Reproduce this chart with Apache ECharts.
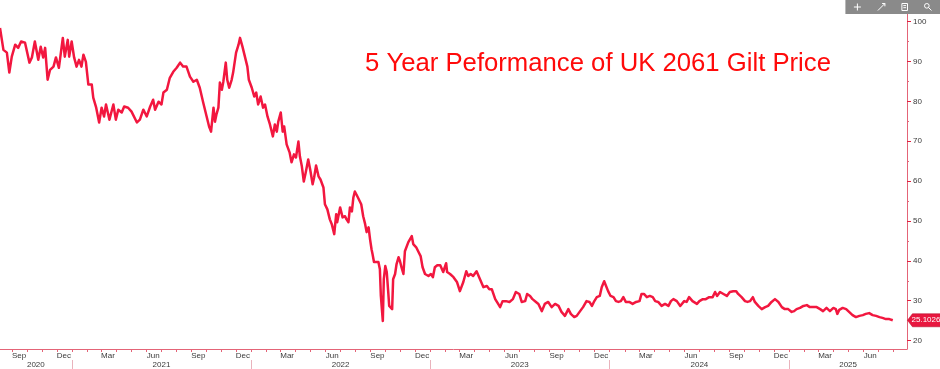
<!DOCTYPE html>
<html>
<head>
<meta charset="utf-8">
<script src="https://cdn.jsdelivr.net/npm/echarts@6/dist/echarts.min.js"></script>
<style>
  html, body { margin: 0; padding: 0; background: #ffffff; }
  #chart { width: 940px; height: 369px; }
</style>
</head>
<body>
<div id="chart"></div>
<script>
// ---- Data ----
const titleText = '5 Year Peformance of UK 2061 Gilt Price';
const lastLabel = '25.1026';

const dates = [
'2020-08-07','2020-08-14','2020-08-21','2020-08-26','2020-08-31','2020-09-07','2020-09-13','2020-09-19','2020-09-27','2020-10-06',
'2020-10-11','2020-10-17','2020-10-24','2020-10-29','2020-11-03','2020-11-07','2020-11-12','2020-11-17','2020-11-24','2020-11-29',
'2020-12-05','2020-12-13','2020-12-17','2020-12-23','2020-12-26','2020-12-31','2021-01-05','2021-01-10','2021-01-15','2021-01-20',
'2021-01-24','2021-01-29','2021-02-03','2021-02-10','2021-02-13','2021-02-19','2021-02-25','2021-03-02','2021-03-07','2021-03-11',
'2021-03-18','2021-03-26','2021-03-31','2021-04-05','2021-04-12','2021-04-17','2021-04-25','2021-05-02','2021-05-06','2021-05-13',
'2021-05-19','2021-05-26','2021-06-02','2021-06-09','2021-06-15','2021-06-19','2021-06-26','2021-07-02','2021-07-06','2021-07-13',
'2021-07-19','2021-07-26','2021-08-02','2021-08-09','2021-08-15','2021-08-22','2021-08-29','2021-09-05','2021-09-12','2021-09-18',
'2021-09-25','2021-10-02','2021-10-07','2021-10-11','2021-10-16','2021-10-19','2021-10-22','2021-10-26','2021-10-29','2021-11-02',
'2021-11-05','2021-11-10','2021-11-13','2021-11-17','2021-11-22','2021-11-25','2021-12-01','2021-12-06','2021-12-09','2021-12-14',
'2021-12-19','2021-12-24','2021-12-27','2022-01-02','2022-01-07','2022-01-11','2022-01-15','2022-01-20','2022-01-25','2022-01-29',
'2022-02-03','2022-02-08','2022-02-14','2022-02-18','2022-02-22','2022-02-25','2022-03-02','2022-03-06','2022-03-09','2022-03-14',
'2022-03-20','2022-03-24','2022-03-29','2022-04-02','2022-04-07','2022-04-10','2022-04-14','2022-04-18','2022-04-22','2022-04-27',
'2022-05-01','2022-05-06','2022-05-09','2022-05-13','2022-05-18','2022-05-22','2022-05-28','2022-05-31','2022-06-05','2022-06-10',
'2022-06-14','2022-06-19','2022-06-23','2022-06-25','2022-07-01','2022-07-06','2022-07-11','2022-07-14','2022-07-18','2022-07-21',
'2022-07-25','2022-07-28','2022-07-31','2022-08-05','2022-08-09','2022-08-13','2022-08-17','2022-08-21','2022-08-24','2022-08-28',
'2022-08-31','2022-09-03','2022-09-05','2022-09-08','2022-09-12','2022-09-17','2022-09-20','2022-09-22','2022-09-26','2022-09-28',
'2022-10-01','2022-10-04','2022-10-07','2022-10-09','2022-10-12','2022-10-15','2022-10-17','2022-10-21','2022-10-24','2022-10-28',
'2022-10-31','2022-11-03','2022-11-07','2022-11-10','2022-11-14','2022-11-17','2022-11-20','2022-11-24','2022-11-27','2022-12-03',
'2022-12-07','2022-12-12','2022-12-16','2022-12-21','2022-12-28','2023-01-02','2023-01-06','2023-01-10','2023-01-15','2023-01-21',
'2023-01-24','2023-01-27','2023-01-31','2023-02-02','2023-02-04','2023-02-10','2023-02-17','2023-02-24','2023-03-02','2023-03-09',
'2023-03-15','2023-03-19','2023-03-24','2023-03-29','2023-04-05','2023-04-12','2023-04-19','2023-04-26','2023-05-01','2023-05-06',
'2023-05-13','2023-05-19','2023-05-23','2023-05-28','2023-06-04','2023-06-11','2023-06-18','2023-06-24','2023-07-01','2023-07-06',
'2023-07-13','2023-07-17','2023-07-23','2023-07-28','2023-08-04','2023-08-09','2023-08-16','2023-08-22','2023-08-29','2023-09-05',
'2023-09-12','2023-09-19','2023-09-25','2023-10-02','2023-10-09','2023-10-14','2023-10-21','2023-10-26','2023-11-02','2023-11-08',
'2023-11-15','2023-11-21','2023-11-26','2023-11-30','2023-12-06','2023-12-12','2023-12-16','2023-12-21','2023-12-25','2023-12-29',
'2024-01-03','2024-01-09','2024-01-14','2024-01-19','2024-01-24','2024-01-29','2024-02-03','2024-02-10','2024-02-17','2024-02-24',
'2024-03-02','2024-03-06','2024-03-11','2024-03-17','2024-03-23','2024-03-29','2024-04-03','2024-04-09','2024-04-16','2024-04-23',
'2024-04-30','2024-05-05','2024-05-10','2024-05-17','2024-05-24','2024-05-27','2024-06-01','2024-06-06','2024-06-11','2024-06-18',
'2024-06-27','2024-07-02','2024-07-09','2024-07-15','2024-07-22','2024-07-29','2024-08-03','2024-08-07','2024-08-13','2024-08-20',
'2024-08-27','2024-09-02','2024-09-09','2024-09-15','2024-09-19','2024-09-26','2024-10-03','2024-10-08','2024-10-13','2024-10-19',
'2024-10-23','2024-10-30','2024-11-06','2024-11-13','2024-11-19','2024-11-26','2024-12-03','2024-12-10','2024-12-17','2024-12-23',
'2024-12-30','2025-01-06','2025-01-11','2025-01-16','2025-01-23','2025-01-30','2025-02-06','2025-02-12','2025-02-19','2025-02-26',
'2025-03-05','2025-03-11','2025-03-18','2025-03-25','2025-04-01','2025-04-06','2025-04-09','2025-04-13','2025-04-20','2025-04-27',
'2025-05-03','2025-05-10','2025-05-17','2025-05-24','2025-05-31','2025-06-06','2025-06-13','2025-06-20','2025-06-27','2025-07-04',
'2025-07-10','2025-07-17','2025-07-24','2025-07-31'
];

const prices = [
98.4,92.9,92.2,87.2,91.2,94.2,93.4,95.0,94.7,89.7,
91.0,95.0,90.4,93.7,91.0,93.4,85.4,87.9,88.7,91.0,
88.4,95.9,91.2,95.4,91.2,95.0,91.0,88.7,90.4,88.7,
91.7,89.9,84.2,84.2,80.9,78.4,74.7,78.4,76.2,79.2,
75.4,79.2,75.4,77.9,77.2,78.7,78.4,77.4,77.2,74.7,
75.4,77.9,76.2,78.7,80.4,77.9,79.9,79.2,82.2,82.9,
85.9,87.4,88.4,89.7,88.7,88.7,86.2,84.9,85.4,83.4,
79.7,76.2,73.7,72.4,78.4,74.9,76.7,78.4,84.7,82.9,
84.9,89.7,85.4,83.4,85.4,87.2,92.2,94.2,95.9,93.7,
91.2,88.7,85.4,83.4,81.2,82.2,79.2,81.2,78.4,79.2,
76.2,74.2,71.2,74.2,72.4,74.9,77.2,72.4,73.7,69.2,
67.2,64.7,66.7,65.9,69.9,66.2,63.7,59.9,62.2,65.4,
62.9,59.2,60.9,63.9,61.2,60.4,58.4,54.2,52.9,50.4,
49.2,46.7,51.7,49.7,53.4,50.9,51.2,50.4,49.7,53.4,
52.4,55.9,57.4,56.2,56.7,54.2,51.2,49.2,47.2,48.4,
45.4,42.9,41.7,39.7,39.9,39.7,37.9,31.2,24.9,35.4,
38.7,37.2,32.2,28.7,28.4,27.9,35.4,36.7,39.2,40.9,
39.9,38.4,36.7,42.4,42.2,44.7,44.2,46.2,44.2,43.4,
42.4,41.2,38.4,36.7,36.2,36.7,35.9,38.4,38.9,38.9,
38.4,37.2,37.4,39.4,37.2,36.7,35.9,34.7,32.4,34.7,
37.4,36.2,36.7,36.2,37.4,35.4,33.4,33.7,32.9,32.9,
30.4,29.2,28.4,29.9,29.9,29.7,30.4,32.2,31.7,29.7,
29.9,31.7,31.2,30.4,29.7,29.2,27.4,29.2,29.7,28.4,
29.2,28.7,27.2,26.2,27.9,26.7,25.9,26.2,27.4,28.4,
29.9,29.7,28.7,29.7,30.9,31.2,33.4,34.9,35.4,32.4,
31.2,30.9,29.9,29.7,29.9,30.9,29.7,29.7,29.2,29.7,
29.9,31.7,31.7,30.9,31.2,30.9,29.9,29.7,28.7,29.2,
28.7,29.9,30.4,29.9,28.7,28.2,29.9,29.7,30.9,29.9,
29.2,29.9,30.4,30.4,30.9,30.9,32.2,31.2,32.2,31.7,
31.2,32.2,32.4,32.4,31.7,30.9,29.9,29.7,29.9,30.9,
29.7,28.7,27.9,28.4,28.7,29.7,30.4,29.7,28.4,27.9,
27.9,27.2,27.4,27.9,28.2,28.7,28.9,28.4,28.4,28.4,
27.9,27.4,28.2,27.4,28.2,27.9,26.7,27.7,28.2,27.9,
27.2,26.4,25.9,26.2,26.4,26.7,26.9,26.4,26.2,25.9,
25.7,25.4,25.4,25.1026
];

// Axis ranges and tick labels
const xMin = '2020-08-07';
const xMax = '2025-08-29';
const yMin = 17.9;
const yMax = 105.4;
const yLabelValues = [20, 30, 40, 50, 60, 70, 80, 90, 100];
const yMinorTickValues = [25, 35, 45, 55, 65, 75, 85, 95, 105];
const monthLabelDates = [
  '2020-09-15','2020-12-15','2021-03-15','2021-06-15','2021-09-15','2021-12-15',
  '2022-03-15','2022-06-15','2022-09-15','2022-12-15','2023-03-15','2023-06-15',
  '2023-09-15','2023-12-15','2024-03-15','2024-06-15','2024-09-15','2024-12-15',
  '2025-03-15','2025-06-15'
];
const monthNames = ['Jan','Feb','Mar','Apr','May','Jun','Jul','Aug','Sep','Oct','Nov','Dec'];
const yearLabelDates = ['2020-10-19','2021-07-02','2022-07-02','2023-07-02','2024-07-02','2025-05-01'];
const yearBoundaryDates = ['2021-01-01','2022-01-01','2023-01-01','2024-01-01','2025-01-01'];

// ---- helpers: dates -> UTC timestamps for a numeric (value) x axis ----
function ts(s) {
  const p = s.split('-').map(Number);
  return Date.UTC(p[0], p[1] - 1, p[2]);
}
const monthTickTs = [];
for (let y = 2020; y <= 2025; y++) {
  for (let m = 0; m < 12; m++) {
    const t = Date.UTC(y, m, 1);
    if (t > ts(xMin) && t < ts(xMax)) monthTickTs.push(t);
  }
}

const axisRed = '#e46477';
const lineRed = '#f2173f';
const labelGrey = '#3a3a3a';
const fontFam = 'Liberation Sans, Arial, sans-serif';

const chart = echarts.init(document.getElementById('chart'), null, { renderer: 'canvas' });

const option = {
  backgroundColor: '#ffffff',
  animation: false,
  title: {
    text: titleText,
    left: 360,
    top: 46,
    textStyle: { color: '#ff0a0a', fontSize: 25.7, fontWeight: 'normal', fontFamily: fontFam }
  },
  toolbox: {
    show: true,
    right: 0,
    top: 0,
    itemSize: 7,
    itemGap: 12,
    padding: [1, 6],
    backgroundColor: '#8a8a8a',
    iconStyle: { borderColor: '#ffffff', borderWidth: 1, color: 'none' },
    feature: {
      myMove: { show: true, title: '', icon: 'path://M5,0 L5,10 M0,5 L10,5', onclick: function () {} },
      myLine: { show: true, title: '', icon: 'path://M0,10 L10,0 M6,0 L10,0 L10,4', onclick: function () {} },
      myDoc: { show: true, title: '', icon: 'path://M1,0 L9,0 L9,10 L1,10 Z M3,3 L7,3 M3,6 L7,6', onclick: function () {} },
      myFind: { show: true, title: '', icon: 'path://M1,4 A3,3 0 1,1 7,4 A3,3 0 1,1 1,4 Z M6,6 L10,10', onclick: function () {} }
    }
  },
  grid: { left: 0, right: 33, top: 0, bottom: 19, containLabel: false },
  xAxis: [
    {
      type: 'value',
      min: ts(xMin),
      max: ts(xMax),
      position: 'bottom',
      axisLine: { show: true, onZero: false, lineStyle: { color: axisRed, width: 1 } },
      axisTick: {
        show: true, length: 3, inside: false,
        customValues: monthTickTs,
        lineStyle: { color: axisRed, width: 1 }
      },
      axisLabel: {
        show: true,
        customValues: monthLabelDates.map(ts),
        formatter: function (v) { return monthNames[new Date(v).getUTCMonth()]; },
        color: labelGrey, fontSize: 8, fontFamily: fontFam, margin: 3
      },
      splitLine: { show: false }
    },
    {
      type: 'value',
      min: ts(xMin),
      max: ts(xMax),
      position: 'bottom',
      offset: 11,
      axisLine: { show: false },
      axisTick: {
        show: true, length: 9, inside: false,
        customValues: yearBoundaryDates.map(ts),
        lineStyle: { color: '#e9b3bc', width: 1 }
      },
      axisLabel: {
        show: true,
        customValues: yearLabelDates.map(ts),
        formatter: function (v) { return String(new Date(v).getUTCFullYear()); },
        color: labelGrey, fontSize: 8, fontFamily: fontFam, margin: 1
      },
      splitLine: { show: false }
    }
  ],
  yAxis: [
    {
      type: 'value',
      position: 'right',
      min: yMin,
      max: yMax,
      axisLine: { show: true, lineStyle: { color: axisRed, width: 1 } },
      axisTick: {
        show: true, length: 4, inside: false,
        customValues: yLabelValues,
        lineStyle: { color: '#e0203f', width: 1 }
      },
      axisLabel: {
        show: true,
        customValues: yLabelValues,
        color: labelGrey, fontSize: 8, fontFamily: fontFam, margin: 6
      },
      splitLine: { show: false }
    },
    {
      type: 'value',
      position: 'right',
      min: yMin,
      max: yMax,
      axisLine: { show: false },
      axisTick: {
        show: true, length: 2, inside: false,
        customValues: yMinorTickValues,
        lineStyle: { color: axisRed, width: 1 }
      },
      axisLabel: { show: false },
      splitLine: { show: false }
    }
  ],
  series: [
    {
      type: 'line',
      xAxisIndex: 0,
      yAxisIndex: 0,
      data: dates.map(function (d, i) { return [ts(d), prices[i]]; }),
      showSymbol: false,
      symbol: 'none',
      smooth: false,
      lineStyle: { color: lineRed, width: 2.5, join: 'round' },
      markPoint: {
        silent: true,
        symbol: 'path://M0,7 L6,0 L40,0 L40,14 L6,14 Z',
        symbolSize: [33, 13],
        symbolKeepAspect: false,
        itemStyle: { color: '#e8173f', borderColor: '#b50f2c', borderWidth: 0.5 },
        data: [{
          coord: [ts(xMax), prices[prices.length - 1]],
          symbolOffset: [17, 0],
          label: {
            show: true,
            position: 'inside',
            formatter: lastLabel,
            color: '#ffffff',
            fontSize: 8,
            fontFamily: fontFam,
            offset: [2, 0],
            overflow: 'none'
          }
        }]
      }
    }
  ]
};

chart.setOption(option);
</script>
</body>
</html>
